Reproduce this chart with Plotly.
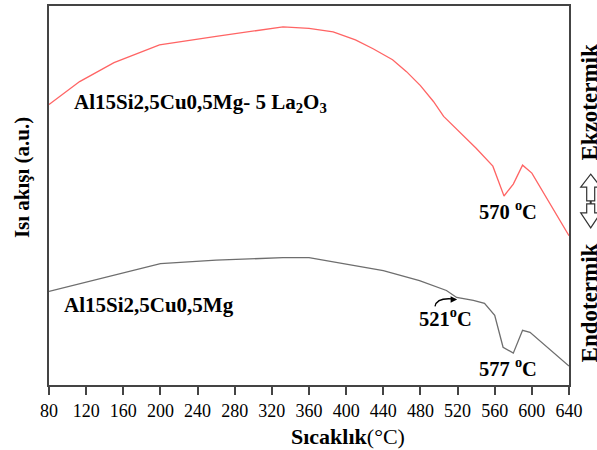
import plotly.graph_objects as go

# ---- data ----
temp_red = [80, 113, 150, 199, 260, 300, 332, 360, 386, 410, 429, 450, 465, 480, 494, 505, 519, 540, 558, 570, 580, 590, 600, 620, 640]
flow_red = [282, 305, 324, 342, 350.5, 355.5, 360, 358.5, 355, 347, 338, 327, 315, 301, 285, 270, 257, 238, 220, 190, 202, 221, 213, 182, 150]

temp_gray = [80, 140, 200, 260, 332, 360, 397, 440, 479, 508, 519, 537, 549, 560, 569, 580, 590, 598, 640]
flow_gray = [94, 108, 122, 125.5, 128, 128, 122, 115, 105, 95, 88, 85, 82, 70, 38, 32, 55, 53, 19]

x_ticks = list(range(80, 641, 40))

label_red = "Al15Si2,5Cu0,5Mg- 5 La<sub>2</sub>O<sub>3</sub>"
label_gray = "Al15Si2,5Cu0,5Mg"

W, H = 597, 450
ML, MR, MT, MB = 49, 28, 4, 65
PW, PH = W - ML - MR, H - MT - MB

def px(xp):
    return (xp - ML) / PW

def py(yp):
    return (H - MB - yp) / PH

SERIF = "Liberation Serif, Times New Roman, serif"

fig = go.Figure()
fig.add_trace(go.Scatter(x=temp_red, y=flow_red, mode="lines",
                         line=dict(color="#ff6464", width=1.3), showlegend=False))
fig.add_trace(go.Scatter(x=temp_gray, y=flow_gray, mode="lines",
                         line=dict(color="#6e6e6e", width=1.3), showlegend=False))

def txt(x, y, text, size, **kw):
    d = dict(x=x, y=y, text=text, showarrow=False, xanchor="left", yanchor="middle",
             font=dict(family=SERIF, size=size, color="black"))
    d.update(kw)
    return d

ann = []
ann.append(txt(104.5, 283, "<b>" + label_red + "</b>", 21))
ann.append(txt(94.5, 80, "<b>" + label_gray + "</b>", 21))
ann.append(txt(541, 176, "<b>570 <sup>o</sup>C</b>", 20.5))
ann.append(txt(541, 18, "<b>577 <sup>o</sup>C</b>", 20.5))
ann.append(txt(476.5, 68, "<b>521<sup>o</sup>C</b>", 20.5))
# arrowhead of the curved 521 °C arrow
ann.append(dict(x=519.5, y=86, ax=-7, ay=0, text="", showarrow=True, arrowhead=2,
                arrowsize=1, arrowwidth=1.3, arrowcolor="black", xref="x", yref="y"))
# axis titles
ann.append(txt(px(22), py(177), "<b>Isı akışı (a.u.)</b>", 21, xref="paper", yref="paper",
               textangle=-90, xanchor="center"))
ann.append(txt(px(348), py(437), "<b>Sıcaklık</b>(°C)", 22, xref="paper", yref="paper",
               xanchor="center"))
# right side labels
ann.append(txt(px(589), py(101), "<b>Ekzotermik</b>", 23, xref="paper", yref="paper",
               textangle=-90, xanchor="center"))
ann.append(txt(px(589), py(303), "<b>Endotermik</b>", 23, xref="paper", yref="paper",
               textangle=-90, xanchor="center"))

# hollow up / down arrows
cx = 590.7
up = [(cx, 173), (cx + 10, 186), (cx + 4, 186), (cx + 4, 200), (cx - 4, 200), (cx - 4, 186), (cx - 10, 186)]
dn = [(cx, 227), (cx + 10, 212), (cx + 4, 212), (cx + 4, 203), (cx - 4, 203), (cx - 4, 212), (cx - 10, 212)]

def path(pts):
    return "M " + " L ".join(f"{px(a):.5f},{py(b):.5f}" for a, b in pts) + " Z"

shapes = [
    dict(type="path", xref="paper", yref="paper", path=path(up), line=dict(color="#333", width=1.2),
         fillcolor="white"),
    dict(type="path", xref="paper", yref="paper", path=path(dn), line=dict(color="#333", width=1.2),
         fillcolor="white"),
    dict(type="line", xref="paper", yref="paper", x0=px(cx), x1=px(cx), y0=py(200), y1=py(203),
         line=dict(color="#333", width=2)),
    # curved stem of the 521 °C arrow (data coordinates)
    dict(type="path", xref="x", yref="y", path="M 495.7,79 Q 497.5,88 515,86.5",
         line=dict(color="black", width=1.3)),
]

fig.update_layout(
    width=W, height=H,
    margin=dict(l=ML, r=MR, t=MT, b=MB),
    paper_bgcolor="white", plot_bgcolor="white",
    annotations=ann, shapes=shapes,
    xaxis=dict(range=[80, 640], tickvals=x_ticks, ticktext=[str(v) for v in x_ticks],
               ticks="outside", ticklen=8, tickwidth=1.5, tickcolor="#444",
               showline=True, linecolor="#444", linewidth=2, mirror=True,
               showgrid=False, zeroline=False,
               tickfont=dict(family=SERIF, size=18, color="black")),
    yaxis=dict(range=[0, 381], showticklabels=False, ticks="",
               showline=True, linecolor="#444", linewidth=2, mirror=True,
               showgrid=False, zeroline=False),
)

fig.write_html("out.html", config={"displayModeBar": False},
               post_script="document.body.style.margin='0';document.body.style.overflow='hidden';")
